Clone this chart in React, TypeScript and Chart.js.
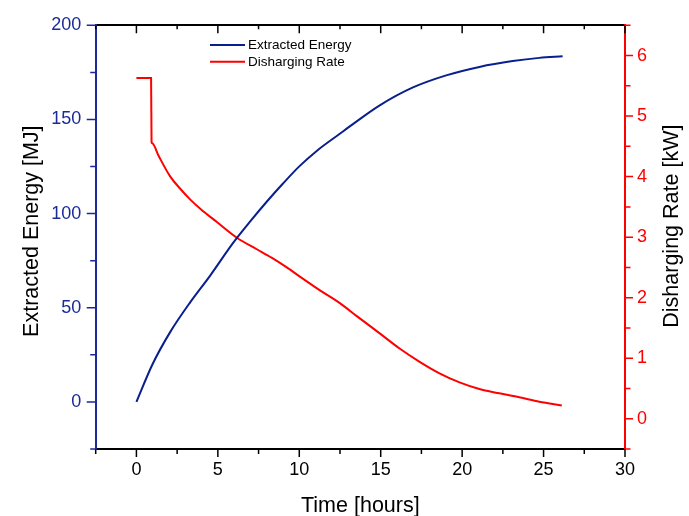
import React, { useEffect, useRef } from 'react';
import { Chart, registerables } from 'chart.js';

Chart.register(...registerables);

// ---- data ----
const energyTime = [0, 0.96, 2.08, 3.31, 4.53, 5.96, 7, 8, 9, 10, 11.07, 12.49, 13.1, 14.94, 16.98, 19.02, 21.06, 23.1, 24.74, 26.17];
const energyValues = [0, 19.5, 37.2, 53, 67.1, 84.7, 96, 106.3, 116, 125.1, 133.3, 142.4, 146.3, 157.5, 167, 173.4, 177.9, 181, 182.7, 183.5];

const rateTime = [0, 0.5, 0.9, 0.93, 0.97, 1.37, 2.08, 2.69, 3.31, 3.92, 4.94, 6.17, 7.39, 8.3, 9.23, 10.24, 11.27, 12.49, 13.51, 14.94, 16.16, 17.39, 18.61, 19.84, 21.06, 22.29, 23.51, 24.74, 26.12];
const rateValues = [5.63, 5.63, 5.63, 4.57, 4.55, 4.34, 4.0, 3.8, 3.62, 3.47, 3.25, 2.99, 2.8, 2.66, 2.5, 2.31, 2.12, 1.91, 1.7, 1.41, 1.16, 0.94, 0.75, 0.6, 0.49, 0.42, 0.355, 0.28, 0.22];

const timeTickLabels = [0, 5, 10, 15, 20, 25, 30];
const energyTickLabels = [0, 50, 100, 150, 200];
const rateTickLabels = [0, 1, 2, 3, 4, 5, 6];

const seriesLabels = ['Extracted Energy', 'Disharging Rate'];
const xTitle = 'Time [hours]';
const yTitle = 'Extracted Energy [MJ]';
const y1Title = 'Disharging Rate [kW]';

// ---- styles ----
const FONT = '"Liberation Sans", Arial, sans-serif';
const LINE_BLUE = '#0a1f8e';
const AXIS_BLUE = '#1a2b98';
const RED = '#ff0000';

const isIn = (arr: number[], v: number) => arr.some((a) => Math.abs(a - v) < 1e-6);

export default function App() {
  const ref = useRef<HTMLCanvasElement | null>(null);

  useEffect(() => {
    if (!ref.current) return;

    const tickMarks = {
      id: 'tickMarks',
      afterDraw(chart: any) {
        const ctx = chart.ctx;
        const ca = chart.chartArea;
        const draw = (scaleId: string, majors: number[], side: string, color: string, majLen: number, minLen: number, inward: boolean) => {
          const s = chart.scales[scaleId];
          ctx.save();
          ctx.strokeStyle = color;
          ctx.lineWidth = 1.5;
          ctx.beginPath();
          for (const t of s.ticks) {
            const len = isIn(majors, t.value) ? majLen : minLen;
            const p = s.getPixelForValue(t.value);
            if (side === 'bottom') {
              ctx.moveTo(p, ca.bottom);
              ctx.lineTo(p, ca.bottom + len);
            } else if (side === 'top') {
              ctx.moveTo(p, ca.top);
              ctx.lineTo(p, inward ? ca.top + len : ca.top - len);
            } else if (side === 'left') {
              ctx.moveTo(ca.left, p);
              ctx.lineTo(ca.left - len, p);
            } else {
              ctx.moveTo(ca.right, p);
              ctx.lineTo(ca.right + len, p);
            }
          }
          ctx.stroke();
          ctx.restore();
        };
        draw('x', timeTickLabels, 'bottom', '#000', 8, 5, false);
        draw('xTop', timeTickLabels, 'top', '#000', 8, 4, true);
        draw('y', energyTickLabels, 'left', AXIS_BLUE, 9, 5.5, false);
        draw('y1', rateTickLabels, 'right', RED, 8, 5.5, false);

        // axis titles
        ctx.save();
        ctx.fillStyle = '#000';
        ctx.font = `21.5px ${FONT}`;
        ctx.textAlign = 'center';
        ctx.textBaseline = 'alphabetic';
        ctx.fillText(xTitle, (ca.left + ca.right) / 2, ca.bottom + 62.5);
        ctx.save();
        ctx.translate(ca.left - 57.5, (ca.top + ca.bottom) / 2 - 6);
        ctx.rotate(-Math.PI / 2);
        ctx.fillText(yTitle, 0, 0);
        ctx.restore();
        ctx.save();
        ctx.translate(ca.right + 53, (ca.top + ca.bottom) / 2 - 11);
        ctx.rotate(-Math.PI / 2);
        ctx.fillText(y1Title, 0, 0);
        ctx.restore();
        ctx.restore();

        // legend
        const ds = chart.data.datasets;
        ctx.save();
        ctx.font = `13.5px ${FONT}`;
        ctx.textAlign = 'left';
        ctx.textBaseline = 'middle';
        ds.forEach((d: any, i: number) => {
          const y = 45 + i * 16.7;
          ctx.strokeStyle = d.borderColor;
          ctx.lineWidth = 2;
          ctx.beginPath();
          ctx.moveTo(210, y);
          ctx.lineTo(245, y);
          ctx.stroke();
          ctx.fillStyle = '#000';
          ctx.fillText(d.label, 248, y + 0.5);
        });
        ctx.restore();
      },
    };

    const chart = new Chart(ref.current, {
      type: 'line',
      data: {
        datasets: [
          {
            label: seriesLabels[0],
            data: energyTime.map((t, i) => ({ x: t, y: energyValues[i] })),
            borderColor: LINE_BLUE,
            backgroundColor: LINE_BLUE,
            borderWidth: 2,
            pointRadius: 0,
            cubicInterpolationMode: 'monotone',
            yAxisID: 'y',
            xAxisID: 'x',
          },
          {
            label: seriesLabels[1],
            data: rateTime.map((t, i) => ({ x: t, y: rateValues[i] })),
            borderColor: RED,
            backgroundColor: RED,
            borderWidth: 2,
            pointRadius: 0,
            cubicInterpolationMode: 'monotone',
            yAxisID: 'y1',
            xAxisID: 'x',
          },
        ],
      },
      options: {
        animation: false,
        responsive: false,
        devicePixelRatio: 1,
        layout: { padding: 0 },
        plugins: { legend: { display: false }, tooltip: { enabled: false }, title: { display: false } },
        scales: {
          x: {
            type: 'linear',
            position: 'bottom',
            min: -2.5,
            max: 30,
            grid: { display: false, drawTicks: false },
            border: { display: true, color: '#000', width: 2 },
            ticks: {
              stepSize: 2.5,
              autoSkip: false,
              maxRotation: 0,
              padding: 10,
              color: '#000',
              font: { family: FONT, size: 18 },
              callback: (v: any) => (isIn(timeTickLabels, Number(v)) ? String(Number(v)) : ''),
            },
            afterFit: (s: any) => { s.height = 67; },
          },
          xTop: {
            type: 'linear',
            position: 'top',
            min: -2.5,
            max: 30,
            grid: { display: false, drawTicks: false },
            border: { display: true, color: '#000', width: 2 },
            ticks: { stepSize: 2.5, autoSkip: false, display: false },
            afterFit: (s: any) => { s.height = 21; },
          },
          y: {
            type: 'linear',
            position: 'left',
            min: -25,
            max: 200,
            grid: { display: false, drawTicks: false },
            border: { display: true, color: AXIS_BLUE, width: 2 },
            ticks: {
              stepSize: 25,
              autoSkip: false,
              padding: 14.5,
              color: AXIS_BLUE,
              font: { family: FONT, size: 18 },
              callback: (v: any) => (isIn(energyTickLabels, Number(v)) ? String(Number(v)) : ''),
            },
            afterFit: (s: any) => { s.width = 95.7; },
          },
          y1: {
            type: 'linear',
            position: 'right',
            min: -0.5,
            max: 6.5,
            grid: { display: false, drawTicks: false },
            border: { display: true, color: RED, width: 2 },
            ticks: {
              stepSize: 0.5,
              autoSkip: false,
              padding: 12,
              color: RED,
              font: { family: FONT, size: 18 },
              callback: (v: any) => (isIn(rateTickLabels, Number(v)) ? String(Number(v)) : ''),
            },
            afterFit: (s: any) => { s.width = 64; },
          },
        },
      },
      plugins: [tickMarks],
    } as any);

    return () => chart.destroy();
  }, []);

  return (
    <div style={{ position: 'absolute', left: 0, top: 0, width: 689, height: 516, background: '#fff' }}>
      <canvas ref={ref} width={689} height={516} style={{ display: 'block' }} />
    </div>
  );
}
